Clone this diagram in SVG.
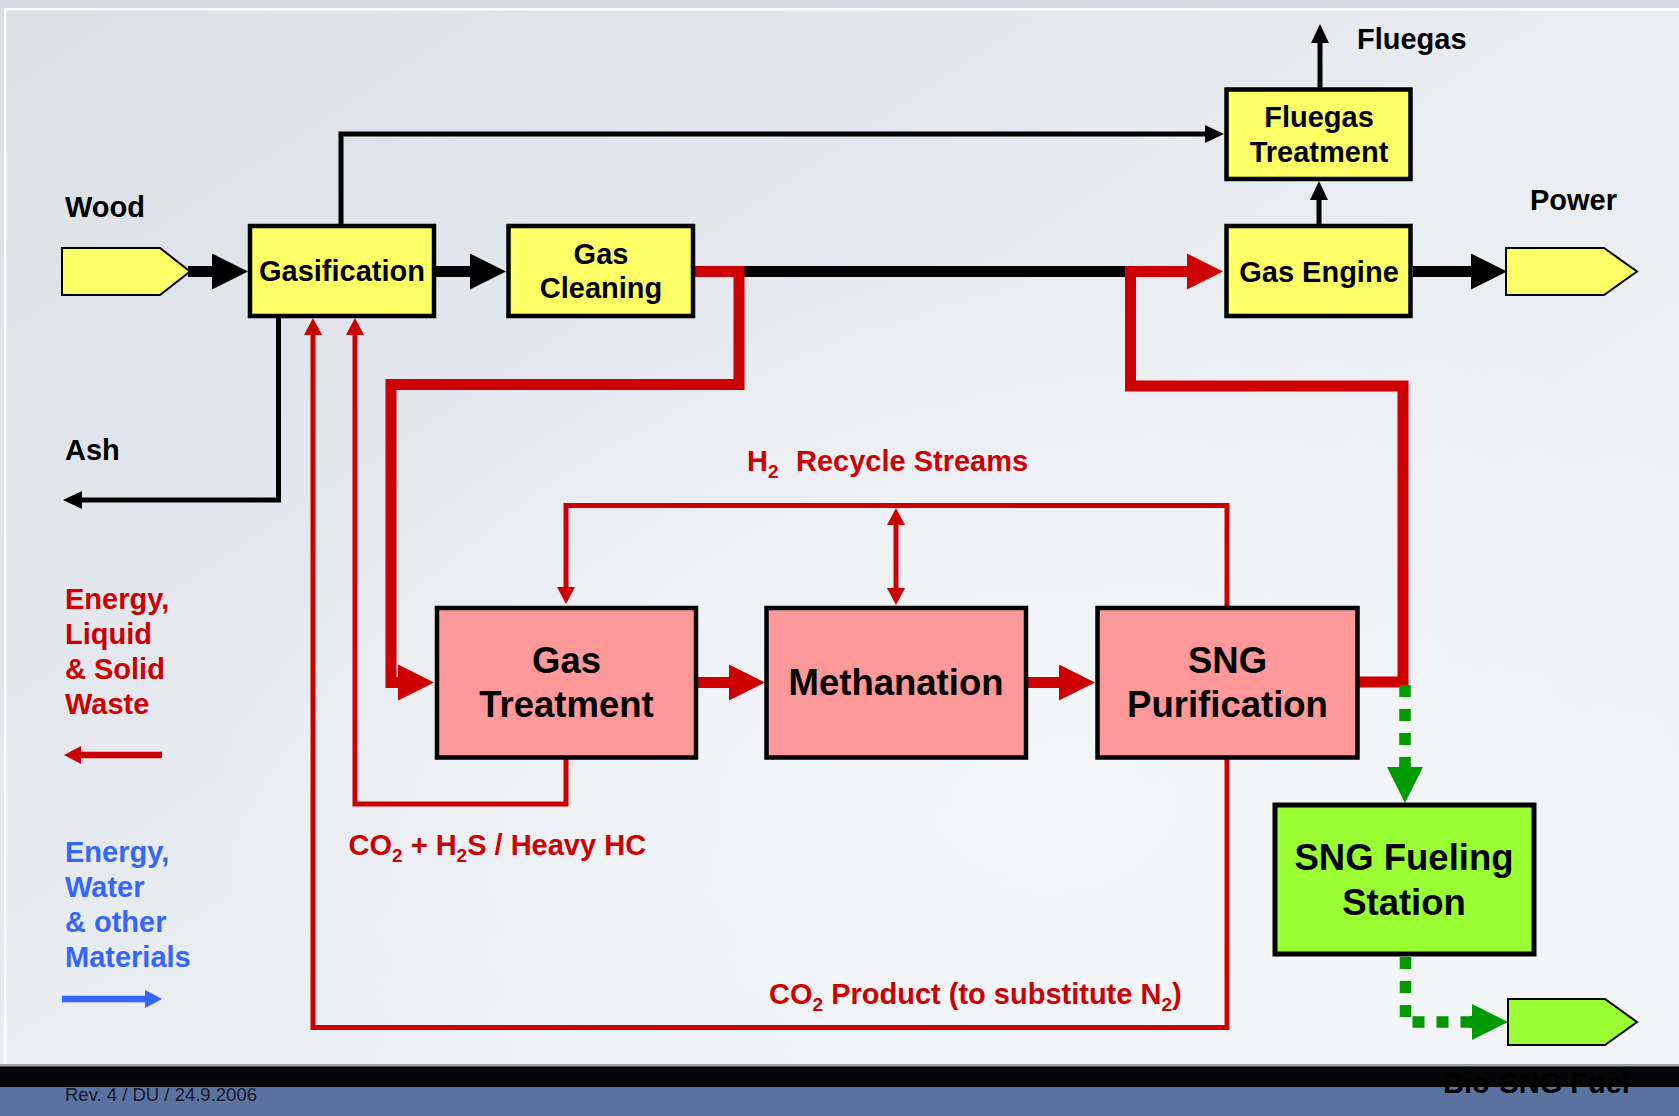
<svg xmlns="http://www.w3.org/2000/svg" width="1679" height="1116" viewBox="0 0 1679 1116">
  <defs>
    <linearGradient id="bg" x1="0" y1="0" x2="1" y2="1">
      <stop offset="0" stop-color="#dadfe6"/>
      <stop offset="0.45" stop-color="#e8ebf0"/>
      <stop offset="1" stop-color="#f3f5f8"/>
    </linearGradient>
    <radialGradient id="glow" cx="0.62" cy="0.72" r="0.5">
      <stop offset="0" stop-color="#f6f8fa" stop-opacity="0.9"/>
      <stop offset="1" stop-color="#f6f8fa" stop-opacity="0"/>
    </radialGradient>
    <marker id="hBlackBig" markerUnits="userSpaceOnUse" markerWidth="36" markerHeight="36" viewBox="0 0 36 36" refX="0" refY="18" orient="auto">
      <path d="M0,0 L36,18 L0,36 z" fill="#000"/>
    </marker>
    <marker id="hRedBig" markerUnits="userSpaceOnUse" markerWidth="36" markerHeight="36" viewBox="0 0 36 36" refX="0" refY="18" orient="auto">
      <path d="M0,0 L36,18 L0,36 z" fill="#cc0000"/>
    </marker>
    <marker id="hBlackSmall" markerUnits="userSpaceOnUse" markerWidth="19" markerHeight="18" viewBox="0 0 19 18" refX="0" refY="9" orient="auto">
      <path d="M0,0 L19,9 L0,18 z" fill="#000"/>
    </marker>
    <marker id="hRedSmall" markerUnits="userSpaceOnUse" markerWidth="17" markerHeight="18" viewBox="0 0 17 18" refX="0" refY="9" orient="auto-start-reverse">
      <path d="M0,0 L17,9 L0,18 z" fill="#cc0000"/>
    </marker>
    <marker id="hBlue" markerUnits="userSpaceOnUse" markerWidth="17" markerHeight="18" viewBox="0 0 17 18" refX="0" refY="9" orient="auto">
      <path d="M0,0 L17,9 L0,18 z" fill="#3366ff"/>
    </marker>
    <marker id="hGreen" markerUnits="userSpaceOnUse" markerWidth="36" markerHeight="36" viewBox="0 0 36 36" refX="0" refY="18" orient="auto">
      <path d="M0,0 L36,18 L0,36 z" fill="#009900"/>
    </marker>
    <style>
      text { font-family: "Liberation Sans", Arial, sans-serif; font-weight: bold; }
      .t29 { font-size: 29px; fill: #000; }
      .t36 { font-size: 36.5px; fill: #000; }
      .red { fill: #cc0000; font-size: 29px; }
      .blue { fill: #3366ff; font-size: 29px; }
      .mid { text-anchor: middle; }
      .sub { font-size: 19px; }
      .yellow { fill: #ffff66; stroke: #000; stroke-width: 4.5; }
      .pink { fill: #ff9999; stroke: #000; stroke-width: 4.5; }
      .green { fill: #99ff33; stroke: #000; stroke-width: 5; }
      .io { stroke: #000; stroke-width: 2; }
      .kThick { fill: none; stroke: #000; stroke-width: 11; }
      .kThin { fill: none; stroke: #000; stroke-width: 5; stroke-linejoin: miter; }
      .rThick { fill: none; stroke: #cc0000; stroke-width: 11; stroke-linejoin: miter; }
      .rThin { fill: none; stroke: #cc0000; stroke-width: 5; stroke-linejoin: miter; }
      .gDash { fill: none; stroke: #009900; stroke-width: 11.5; stroke-dasharray: 12 12; }
    </style>
  </defs>

  <!-- background -->
  <rect x="0" y="0" width="1679" height="1116" fill="url(#bg)"/>
  <rect x="0" y="0" width="1679" height="1116" fill="url(#glow)"/>
  <rect x="0" y="0" width="1679" height="8" fill="#d5d9e2"/>
  <rect x="4" y="8" width="1675" height="2.5" fill="#ffffff"/>
  <rect x="4" y="8" width="2.5" height="1060" fill="#ffffff"/>
  <rect x="0" y="1064" width="1679" height="3" fill="#9ea3ab"/>
  <rect x="0" y="1066.5" width="1679" height="21" fill="#050508"/>
  <rect x="0" y="1087" width="1679" height="29" fill="#5a72a0"/>
  <text x="65" y="1101" style="font-weight:normal; font-size:18.5px; fill:#1a1a2a;">Rev. 4 / DU / 24.9.2006</text>
  <text x="1443" y="1093" style="font-size:29px; fill:#000;">Bio-SNG Fuel</text>

  <!-- connectors -->
  <g id="connectors">
    <path class="kThick" d="M188,271.5 H212" marker-end="url(#hBlackBig)"/>
    <path class="kThick" d="M436,271.5 H470" marker-end="url(#hBlackBig)"/>
    <path class="kThick" d="M694,271.5 H1130"/>
    <path class="kThick" d="M1413,271.5 H1471" marker-end="url(#hBlackBig)"/>
    <path class="kThin" d="M341,226 V134 H1205" marker-end="url(#hBlackSmall)"/>
    <path class="kThin" d="M1319,226 V200" marker-end="url(#hBlackSmall)"/>
    <path class="kThin" d="M1320,89 V43" marker-end="url(#hBlackSmall)"/>
    <path class="kThin" d="M278.5,318 V500 H82" marker-end="url(#hBlackSmall)"/>

    <path class="rThick" d="M694,271.5 H739 V384.5 H391 V682.5 H398" marker-end="url(#hRedBig)"/>
    <path class="rThick" d="M1359,682 H1403 V386 H1130.5 V271.5 H1187" marker-end="url(#hRedBig)"/>
    <path class="rThick" d="M698,682.5 H729" marker-end="url(#hRedBig)"/>
    <path class="rThick" d="M1028,682.5 H1059" marker-end="url(#hRedBig)"/>

    <path class="rThin" d="M1227,606 V505.5 H566 V587" marker-end="url(#hRedSmall)"/>
    <path class="rThin" d="M896,525 V588" marker-start="url(#hRedSmall)" marker-end="url(#hRedSmall)"/>
    <path class="rThin" d="M566,759 V804 H355 V335" marker-end="url(#hRedSmall)"/>
    <path class="rThin" d="M1227,759 V1027.5 H313 V335" marker-end="url(#hRedSmall)"/>

    <path d="M162,755 H81" fill="none" stroke="#cc0000" stroke-width="6.5" marker-end="url(#hRedSmall)"/>
    <path d="M62,999 H145" fill="none" stroke="#3366ff" stroke-width="6.5" marker-end="url(#hBlue)"/>

    <path class="gDash" d="M1405,685 V767"/>
    <path d="M1405,764 V767" fill="none" stroke="#009900" stroke-width="11.5" marker-end="url(#hGreen)"/>
    <path class="gDash" d="M1405.5,957 V1022 H1472"/>
    <path d="M1469,1022 H1472" fill="none" stroke="#009900" stroke-width="11.5" marker-end="url(#hGreen)"/>
  </g>

  <!-- nodes -->
  <g id="wood">
    <polygon class="io" fill="#ffff66" points="62,248 160,248 190,271.5 160,295 62,295"/>
    <text class="t29" x="65" y="217">Wood</text>
  </g>
  <g id="gasification">
    <rect class="yellow" x="250" y="226" width="184" height="90"/>
    <text class="t29 mid" x="342" y="281">Gasification</text>
  </g>
  <g id="gas-cleaning">
    <rect class="yellow" x="508.5" y="226" width="184.5" height="90"/>
    <text class="t29 mid" x="601" y="264">Gas</text>
    <text class="t29 mid" x="601" y="298">Cleaning</text>
  </g>
  <g id="fluegas-treatment">
    <rect class="yellow" x="1226.5" y="89.5" width="184" height="89.5"/>
    <text class="t29 mid" x="1319" y="127">Fluegas</text>
    <text class="t29 mid" x="1319" y="162">Treatment</text>
  </g>
  <g id="fluegas-out">
    <text class="t29" x="1357" y="49">Fluegas</text>
  </g>
  <g id="gas-engine">
    <rect class="yellow" x="1226.5" y="226" width="184" height="90"/>
    <text class="t29 mid" x="1319" y="282">Gas Engine</text>
  </g>
  <g id="power">
    <polygon class="io" fill="#ffff66" points="1506,248 1604,248 1637,271.5 1604,295 1506,295"/>
    <text class="t29" x="1530" y="210">Power</text>
  </g>
  <g id="ash">
    <text class="t29" x="65" y="460">Ash</text>
  </g>
  <g id="gas-treatment">
    <rect class="pink" x="437" y="608" width="259" height="149.5"/>
    <text class="t36 mid" x="566.5" y="673">Gas</text>
    <text class="t36 mid" x="566.5" y="717">Treatment</text>
  </g>
  <g id="methanation">
    <rect class="pink" x="766.5" y="608" width="259.5" height="149.5"/>
    <text class="t36 mid" x="896" y="695">Methanation</text>
  </g>
  <g id="sng-purification">
    <rect class="pink" x="1097.5" y="608" width="260" height="149.5"/>
    <text class="t36 mid" x="1227.5" y="673">SNG</text>
    <text class="t36 mid" x="1227.5" y="717">Purification</text>
  </g>
  <g id="sng-fueling-station">
    <rect class="green" x="1275" y="805" width="259" height="149"/>
    <text class="t36 mid" x="1404" y="870">SNG Fueling</text>
    <text class="t36 mid" x="1404" y="915">Station</text>
  </g>
  <g id="sng-out">
    <polygon class="io" fill="#99ff33" points="1508,999 1605,999 1637,1022 1605,1045 1508,1045"/>
  </g>

  <!-- labels -->
  <g id="labels">
    <text class="red" x="747" y="471">H<tspan class="sub" dy="7">2</tspan><tspan x="796" dy="-7">Recycle Streams</tspan></text>
    <text class="red" x="348.5" y="855">CO<tspan class="sub" dy="7">2</tspan><tspan dy="-7"> + H</tspan><tspan class="sub" dy="7">2</tspan><tspan dy="-7">S / Heavy HC</tspan></text>
    <text class="red" x="769" y="1004">CO<tspan class="sub" dy="7">2</tspan><tspan dy="-7"> Product (to substitute N</tspan><tspan class="sub" dy="7">2</tspan><tspan dy="-7">)</tspan></text>
    <text class="red" x="65" y="609">Energy,</text>
    <text class="red" x="65" y="644">Liquid</text>
    <text class="red" x="65" y="679">&amp; Solid</text>
    <text class="red" x="65" y="714">Waste</text>
    <text class="blue" x="65" y="862">Energy,</text>
    <text class="blue" x="65" y="897">Water</text>
    <text class="blue" x="65" y="932">&amp; other</text>
    <text class="blue" x="65" y="967">Materials</text>
  </g>
</svg>
